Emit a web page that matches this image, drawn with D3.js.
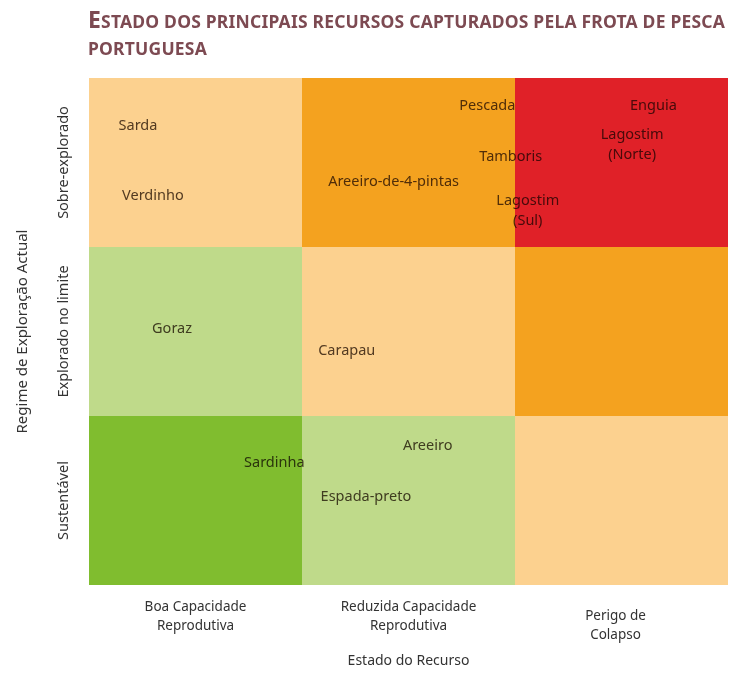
<!DOCTYPE html>
<html>
<head>
<meta charset="utf-8">
<script src="https://cdn.jsdelivr.net/npm/d3@7"></script>
<style>
  body { margin: 0; background: #fff; }
  svg text { font-family: "Noto Sans", "DejaVu Sans", sans-serif; }
</style>
</head>
<body>
<div id="chart"></div>
<script>
// Column categories (Estado do Recurso), left to right
const stateCategories = [
    ['Boa Capacidade', 'Reprodutiva'],
    ['Reduzida Capacidade', 'Reprodutiva'],
    ['Perigo de', 'Colapso']
];
// Row categories (Regime de Exploração Actual), bottom to top
const regimeCategories = ['Sustentável', 'Explorado no limite', 'Sobre-explorado'];

// Cell colour levels [row][col], row 0 = bottom
const cellLevels = [
    [0, 1, 2],
    [1, 2, 3],
    [2, 3, 4]
];
const levelColors = ['#80bd2f', '#bfda8a', '#fcd18f', '#f4a21f', '#e02128'];

// Species positions in grid units (col, row)
const species = ['Sarda', 'Verdinho', 'Pescada', 'Enguia', 'Lagostim\n(Norte)', 'Tamboris',
    'Areeiro-de-4-pintas', 'Lagostim\n(Sul)', 'Goraz', 'Carapau', 'Sardinha', 'Areeiro', 'Espada-preto'];
const speciesX = [0.23, 0.30, 1.87, 2.65, 2.55, 1.98, 1.43, 2.06, 0.39, 1.21, 0.87, 1.59, 1.30];
const speciesY = [2.72, 2.31, 2.84, 2.84, 2.61, 2.54, 2.39, 2.22, 1.52, 1.39, 0.73, 0.83, 0.53];

const titleText = 'Estado dos principais recursos capturados pela frota de pesca';
const titleText2 = 'portuguesa';

const width = 744, height = 673;
const margin = {top: 78, right: 16, bottom: 88, left: 89};

const svg = d3.select('#chart').append('svg')
    .attr('width', width)
    .attr('height', height);

const x = d3.scaleLinear().domain([0, 3]).range([margin.left, width - margin.right]);
const y = d3.scaleLinear().domain([0, 3]).range([height - margin.bottom, margin.top]);
const color = d3.scaleOrdinal().domain(d3.range(5)).range(levelColors);

// Title in small caps
const title = svg.append('text')
    .attr('x', 88)
    .attr('y', 28)
    .attr('fill', '#7d4a52')
    .attr('font-weight', 'bold')
    .attr('letter-spacing', '0.2px');
title.append('tspan').attr('font-size', '23px').text(titleText[0].toUpperCase());
title.append('tspan').attr('font-size', '17.5px').text(titleText.slice(1).toUpperCase());
svg.append('text')
    .attr('x', 88)
    .attr('y', 55)
    .attr('fill', '#7d4a52')
    .attr('font-weight', 'bold')
    .attr('letter-spacing', '0.2px')
    .attr('font-size', '17.5px')
    .text(titleText2.toUpperCase());

// Cells
const cells = [];
cellLevels.forEach((row, r) => row.forEach((lvl, c) => cells.push({r, c, lvl})));
svg.append('g').selectAll('rect')
    .data(cells)
    .enter()
    .append('rect')
    .attr('x', d => x(d.c))
    .attr('y', d => y(d.r + 1))
    .attr('width', d => x(d.c + 1) - x(d.c))
    .attr('height', d => y(d.r) - y(d.r + 1))
    .attr('fill', d => color(d.lvl));

// Species labels (multi-line names split into separate texts)
const labelLines = [];
species.forEach((s, i) => {
    const lines = s.split('\n');
    lines.forEach((ln, j) => labelLines.push({
        text: ln, cx: speciesX[i], cy: speciesY[i], off: (j - (lines.length - 1) / 2) * 20
    }));
});
svg.append('g')
    .selectAll('text')
    .data(labelLines)
    .enter()
    .append('text')
    .attr('x', d => x(d.cx))
    .attr('y', d => y(d.cy) + d.off)
    .attr('dy', '0.35em')
    .attr('text-anchor', 'middle')
    .attr('font-size', '14.5px')
    .attr('fill', '#54473a')
    .style('mix-blend-mode', 'multiply')
    .text(d => d.text);

// Y category labels (rotated)
svg.append('g').selectAll('text')
    .data(regimeCategories)
    .enter()
    .append('text')
    .attr('transform', (d, i) => `translate(68,${y(i + 0.5)}) rotate(-90)`)
    .attr('text-anchor', 'middle')
    .attr('font-size', '14.5px')
    .attr('fill', '#333')
    .text(d => d);

svg.append('text')
    .attr('transform', `translate(27,${y(1.5)}) rotate(-90)`)
    .attr('text-anchor', 'middle')
    .attr('font-size', '15px')
    .attr('fill', '#333')
    .text('Regime de Exploração Actual');

// X category labels, one text per line
const xLines = [];
stateCategories.forEach((d, i) => d.forEach((ln, j) => xLines.push({text: ln, col: i, line: j})));
svg.append('g').selectAll('text')
    .data(xLines)
    .enter()
    .append('text')
    .attr('x', d => x(d.col + 0.5) + (d.col === 2 ? -6 : 0))
    .attr('y', d => (d.col === 2 ? 620 : 611) + d.line * 18.5)
    .attr('text-anchor', 'middle')
    .attr('font-size', '13.5px')
    .attr('fill', '#333')
    .text(d => d.text);

svg.append('text')
    .attr('x', x(1.5))
    .attr('y', 665)
    .attr('text-anchor', 'middle')
    .attr('font-size', '14px')
    .attr('fill', '#333')
    .text('Estado do Recurso');
</script>
</body>
</html>
